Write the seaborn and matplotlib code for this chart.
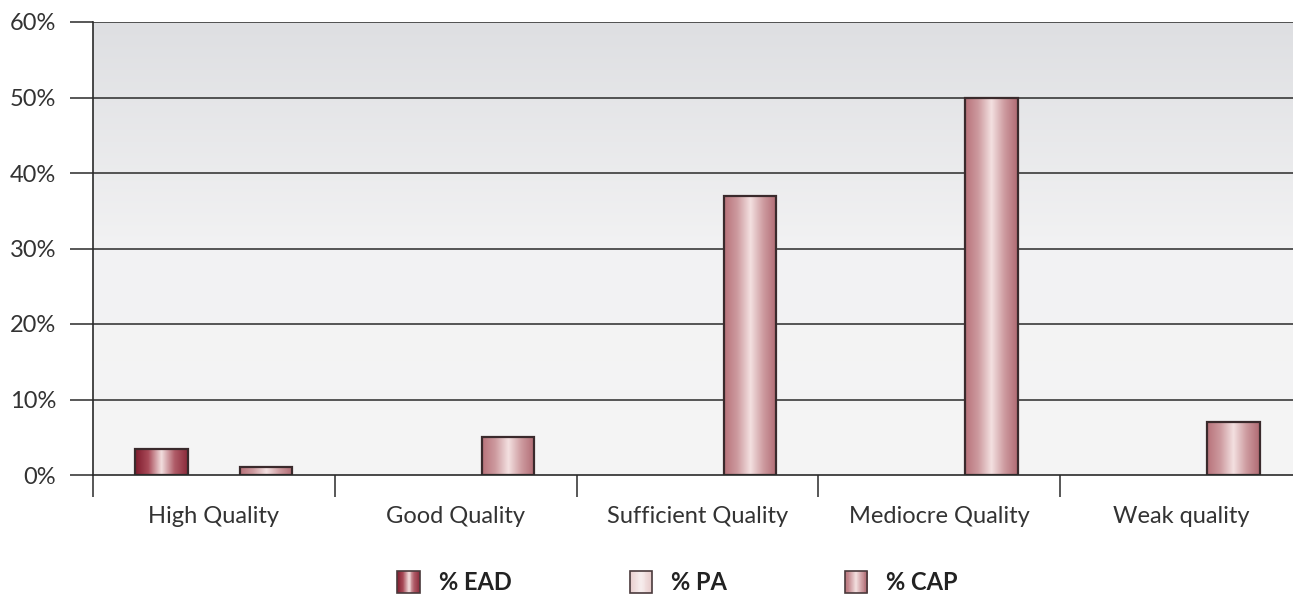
import numpy as np
import pandas as pd
import matplotlib
matplotlib.use("Agg")
import matplotlib.pyplot as plt
import seaborn as sns
from matplotlib.colors import LinearSegmentedColormap
from matplotlib.patches import Rectangle
from matplotlib.legend_handler import HandlerBase

categories = ["High Quality", "Good Quality", "Sufficient Quality", "Mediocre Quality", "Weak quality"]
series = ["% EAD", "% PA", "% CAP"]
ead = [3.5, 0, 0, 0, 0]
pa = [0, 0, 0, 0, 0]
cap = [1, 5, 37, 50, 7]
y_ticks = [0, 10, 20, 30, 40, 50, 60]
y_labels = ["0%", "10%", "20%", "30%", "40%", "50%", "60%"]

df = pd.DataFrame({
    "category": categories * 3,
    "series": [s for s in series for _ in categories],
    "value": ead + pa + cap,
})

# cylinder-style shading for each series: edge -> highlight -> edge
shades = {
    "% EAD": ["#7e1a2c", "#a84a58", "#f2dede", "#b05c68", "#8a2a3a"],
    "% PA": ["#e6caca", "#efdcdc", "#f7eeee", "#efdcdc", "#e6caca"],
    "% CAP": ["#b8727a", "#cd9a9f", "#f3e0e0", "#cd9a9f", "#b06a73"],
}
cmaps = {k: LinearSegmentedColormap.from_list(k, v) for k, v in shades.items()}
solid = {"% EAD": "#9a3a48", "% PA": "#eed8d8", "% CAP": "#c98a90"}

sns.set_style("white")
plt.rcParams["font.family"] = ["Lato", "DejaVu Sans"]

fig = plt.figure(figsize=(12.93, 5.95), dpi=100)
ax = fig.add_axes([93 / 1293, 1 - 475 / 595, (1302 - 93) / 1293, (475 - 22) / 595])

sns.barplot(data=df, x="category", y="value", hue="series", order=categories,
            hue_order=series, palette=solid, width=0.65, gap=0, dodge=True,
            edgecolor="#3a2a2c", linewidth=1.6, legend=False, ax=ax, zorder=3)

ax.set_xlim(-0.5, len(categories) - 0.5)
ax.set_ylim(0, 60)

# background vertical gradient
bg = np.linspace(0, 1, 256).reshape(-1, 1)
bg_cmap = LinearSegmentedColormap.from_list("bg", ["#f5f5f5", "#f2f2f3", "#dedfe2"])
ax.imshow(bg, cmap=bg_cmap, extent=[0, 1, 0, 1], transform=ax.transAxes,
          aspect="auto", origin="lower", zorder=0)

# replace flat fills with shaded gradient images
grad = np.linspace(0, 1, 256).reshape(1, -1)
n = len(categories)
for i, patch in enumerate(ax.patches):
    s = series[i // n]
    x, y = patch.get_x(), patch.get_y()
    w, h = patch.get_width(), patch.get_height()
    if h <= 0:
        patch.set_visible(False)
        continue
    ax.imshow(grad, cmap=cmaps[s], extent=[x, x + w, y, y + h],
              aspect="auto", zorder=2.5)
    patch.set_facecolor("none")

ax.set_xlim(-0.5, len(categories) - 0.5)
ax.set_ylim(0, 60)

# grid lines
for yv in y_ticks[1:]:
    ax.axhline(yv, color="#2a2a2a", lw=1.1, zorder=1)

ax.set_yticks(y_ticks)
ax.set_yticklabels(y_labels)
ax.tick_params(axis="y", length=16.5, width=1.1, color="#2a2a2a", labelsize=17,
               pad=10, labelcolor="#333333", direction="out", left=True)

# group separators as major ticks, labels at group centres
ax.set_xticks(np.arange(-0.5, n, 1.0))
ax.set_xticklabels([])
ax.set_xticks(np.arange(n), minor=True)
ax.set_xticklabels(categories, minor=True)
ax.tick_params(axis="x", which="major", length=16, width=1.1, color="#2a2a2a",
               direction="out", bottom=True)
ax.tick_params(axis="x", which="minor", length=0, labelsize=17, pad=22,
               labelcolor="#333333")
ax.set_xlabel("")
ax.set_ylabel("")

for side in ["top", "right"]:
    ax.spines[side].set_visible(False)
for side in ["left", "bottom"]:
    ax.spines[side].set_color("#2a2a2a")
    ax.spines[side].set_linewidth(1.2)
    ax.spines[side].set_zorder(4)


class GradientSwatch(HandlerBase):
    """Square legend swatch filled with the series' shading."""

    def __init__(self, cmap):
        super().__init__()
        self.cmap = cmap

    def create_artists(self, legend, orig_handle, xdescent, ydescent,
                       width, height, fontsize, trans):
        arts = []
        k = 24
        side = width
        y0 = -ydescent + height / 2 - side / 2
        for j in range(k):
            c = self.cmap((j + 0.5) / k)
            arts.append(Rectangle((-xdescent + width * j / k, y0),
                                  width / k + 0.3, side, facecolor=c,
                                  edgecolor="none", transform=trans))
        arts.append(Rectangle((-xdescent, y0), width, side,
                              facecolor="none", edgecolor="#4a3a3c", lw=1.2,
                              transform=trans))
        return arts


handles = [Rectangle((0, 0), 1, 1, label=s) for s in series]
fig.legend(handles=handles, labels=series,
           handler_map={h: GradientSwatch(cmaps[s]) for h, s in zip(handles, series)},
           loc="center", bbox_to_anchor=(0.524, 1 - 583 / 595), ncol=3, frameon=False,
           prop={"weight": "bold", "size": 17}, handlelength=0.95, handletextpad=0.8,
           columnspacing=5.0, labelcolor="#222222", borderpad=0)

fig.savefig("out.png", dpi=100)
